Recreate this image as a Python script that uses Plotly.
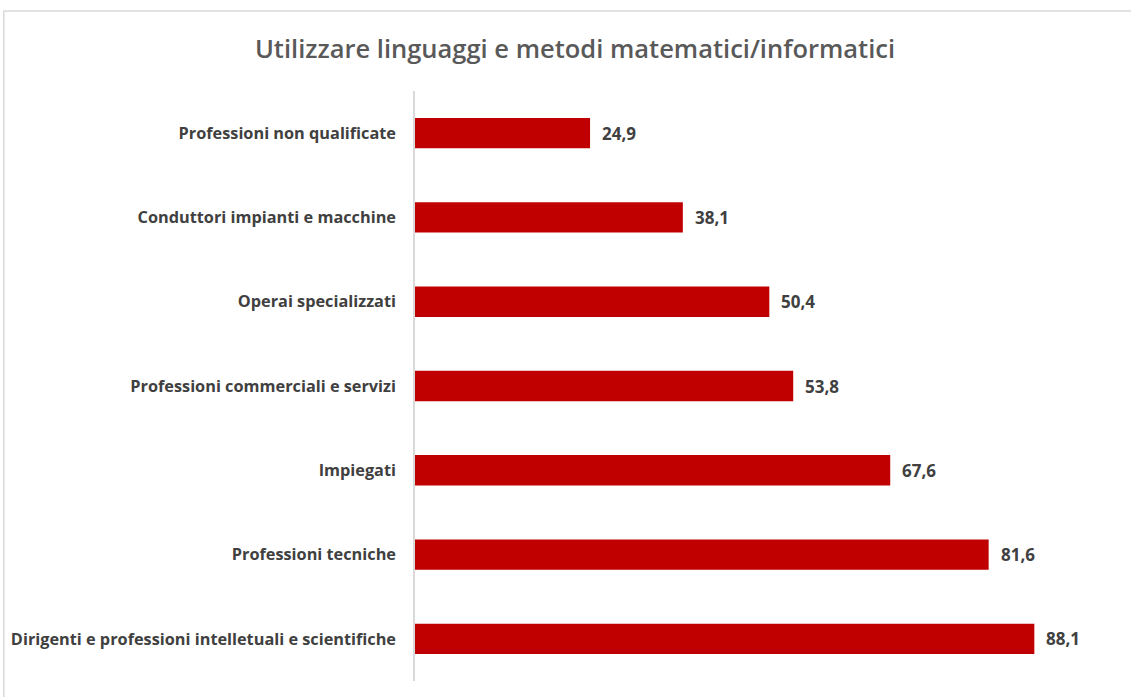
import plotly.graph_objects as go

categories = [
    "Professioni non qualificate",
    "Conduttori impianti e macchine",
    "Operai specializzati",
    "Professioni commerciali e servizi",
    "Impiegati",
    "Professioni tecniche",
    "Dirigenti e professioni intelletuali e scientifiche",
]
values = [24.9, 38.1, 50.4, 53.8, 67.6, 81.6, 88.1]
title_text = "Utilizzare linguaggi e metodi matematici/informatici"

W, H = 1131, 697
L, T, B = 415, 91, 16
plot_w = 702.6
R = W - L - plot_w
FONT = "Open Sans"

fig = go.Figure()
fig.add_trace(go.Bar(
    x=values, y=categories, orientation="h",
    marker=dict(color="#C00000", line=dict(width=0)),
    hoverinfo="x+y",
))

for c, v in zip(categories, values):
    fig.add_annotation(
        x=v, y=c, xref="x", yref="y",
        text=f"{v:.1f}".replace(".", ","),
        showarrow=False, xanchor="left", xshift=10,
        font=dict(family=FONT, size=17, color="#404040", weight="bold"),
    )

plot_h = H - T - B
fig.add_shape(type="line", xref="paper", yref="paper",
              x0=(4 - L) / plot_w, x1=(W + 5 - L) / plot_w,
              y0=(H - B - 11) / plot_h, y1=(H - B - 11) / plot_h,
              line=dict(color="#D9D9D9", width=1.5))
fig.add_shape(type="line", xref="paper", yref="paper",
              x0=(4 - L) / plot_w, x1=(4 - L) / plot_w,
              y0=(H - B - 11) / plot_h, y1=-(B + 5) / plot_h,
              line=dict(color="#D9D9D9", width=1.5))

fig.update_layout(
    width=W, height=H,
    margin=dict(l=L, r=R, t=T, b=B),
    paper_bgcolor="white", plot_bgcolor="white",
    showlegend=False,
    bargap=0.64,
    separators=",.",
    title=dict(text=title_text, x=575 / W, xref="container", xanchor="center",
               y=1 - 49 / H, yref="container", yanchor="middle",
               font=dict(family=FONT, size=25.5, color="#595959", weight=600)),
    xaxis=dict(range=[0, 100], visible=False, showgrid=False, zeroline=False),
    yaxis=dict(categoryorder="array", categoryarray=categories, autorange="reversed",
               showline=True, linecolor="#D9D9D9", linewidth=1.5,
               ticks="", ticklabelstandoff=14, showgrid=False,
               tickfont=dict(family=FONT, size=16.3, color="#404040", weight="bold")),
)

fig.write_html("out.html", config={"displayModeBar": False},
               post_script="document.body.style.margin='0';document.body.style.overflow='hidden';")
